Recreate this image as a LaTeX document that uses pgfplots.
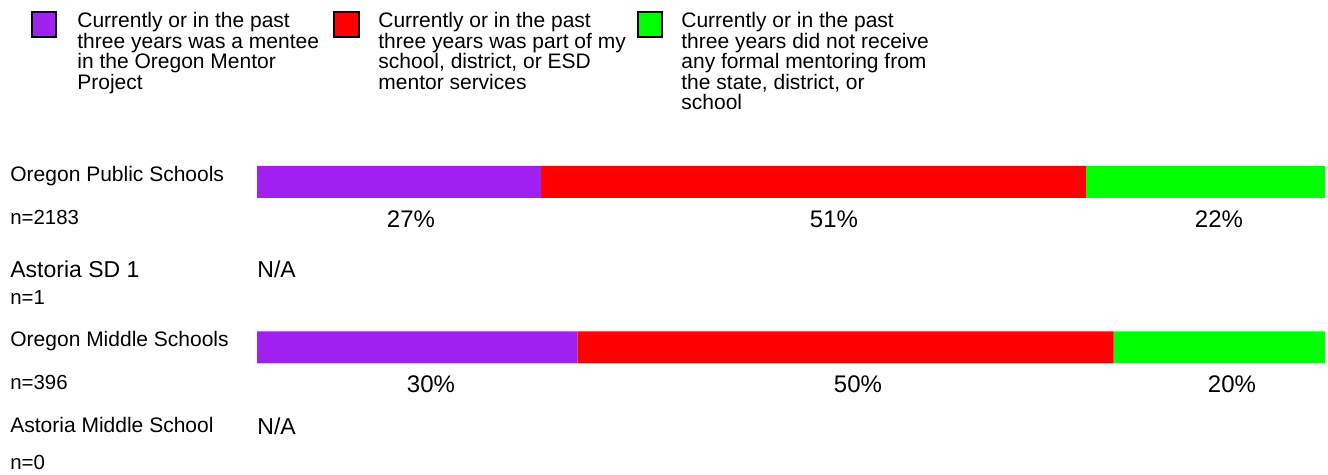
\documentclass[border=0pt]{standalone}
\usepackage{pgfplots}
\pgfplotsset{compat=1.18}
\usepackage{fontspec}
\setmainfont{Liberation Sans}
\definecolor{cpurple}{HTML}{A020F0}
\definecolor{cred}{HTML}{FF0000}
\definecolor{cgreen}{HTML}{00FF00}
\begin{document}
\begin{tikzpicture}
\path[use as bounding box] (0pt,0pt) rectangle (664pt,-237.5pt);
\begin{axis}[
  at={(128.5pt,-237.5pt)}, anchor=south west,
  scale only axis, width=534pt, height=237.5pt,
  xmin=0, xmax=100, ymin=-475, ymax=0,
  hide axis, clip=false,
  xbar stacked, bar width=16pt,
]
\addplot[fill=cpurple, draw=none] coordinates {(26.6,-182) (30.0,-347.5)};
\addplot[fill=cred, draw=none] coordinates {(51.0,-182) (50.2,-347.5)};
\addplot[fill=cgreen, draw=none] coordinates {(22.4,-182) (19.8,-347.5)};
\end{axis}
\begin{scope}[x=0.5pt,y=-0.5pt]
% legend
\def\lfont{\fontsize{10.5pt}{12pt}\selectfont}
\filldraw[fill=cpurple, draw=black, line width=1pt] (32,12) rectangle (56,37);
\filldraw[fill=cred, draw=black, line width=1pt] (334,12) rectangle (359,37);
\filldraw[fill=cgreen, draw=black, line width=1pt] (638,12) rectangle (662,37);
\tikzset{lg/.style={anchor=base west, inner sep=0pt, font=\lfont}}
\node[lg] at (77,28) {Currently or in the past};
\node[lg] at (77,48.5) {three years was a mentee};
\node[lg] at (77,69) {in the Oregon Mentor};
\node[lg] at (77,89.5) {Project};
\node[lg] at (378,28) {Currently or in the past};
\node[lg] at (378,48.5) {three years was part of my};
\node[lg] at (378,69) {school, district, or ESD};
\node[lg] at (378,89.5) {mentor services};
\node[lg] at (681,28) {Currently or in the past};
\node[lg] at (681,48.5) {three years did not receive};
\node[lg] at (681,69) {any formal mentoring from};
\node[lg] at (681,89.5) {the state, district, or};
\node[lg] at (681,110) {school};
% row labels
\def\cfont{\fontsize{10.5pt}{12pt}\selectfont}
\def\sfont{\fontsize{10.2pt}{12pt}\selectfont}
\def\bfont{\fontsize{11.5pt}{14pt}\selectfont}
\def\pfont{\fontsize{12pt}{14pt}\selectfont}
\node[anchor=base west, inner sep=0pt, font=\cfont] at (10,182) {Oregon Public Schools};
\node[anchor=base west, inner sep=0pt, font=\sfont] at (10,225) {n=2183};
\node[anchor=base west, inner sep=0pt, font=\bfont] at (10,278) {Astoria SD 1};
\node[anchor=base west, inner sep=0pt, font=\sfont] at (10,305) {n=1};
\node[anchor=base west, inner sep=0pt, font=\bfont] at (257,278) {N/A};
\node[anchor=base west, inner sep=0pt, font=\cfont] at (10,347) {Oregon Middle Schools};
\node[anchor=base west, inner sep=0pt, font=\sfont] at (10,390) {n=396};
\node[anchor=base west, inner sep=0pt, font=\cfont] at (10,433) {Astoria Middle School};
\node[anchor=base west, inner sep=0pt, font=\bfont] at (257,435) {N/A};
\node[anchor=base west, inner sep=0pt, font=\sfont] at (10,470) {n=0};
% percent labels
\node[anchor=base, inner sep=0pt, font=\pfont] at (411,228) {27\%};
\node[anchor=base, inner sep=0pt, font=\pfont] at (834,228) {51\%};
\node[anchor=base, inner sep=0pt, font=\pfont] at (1219,228) {22\%};
\node[anchor=base, inner sep=0pt, font=\pfont] at (431,393) {30\%};
\node[anchor=base, inner sep=0pt, font=\pfont] at (858,393) {50\%};
\node[anchor=base, inner sep=0pt, font=\pfont] at (1232,393) {20\%};
\end{scope}
\end{tikzpicture}
\end{document}
